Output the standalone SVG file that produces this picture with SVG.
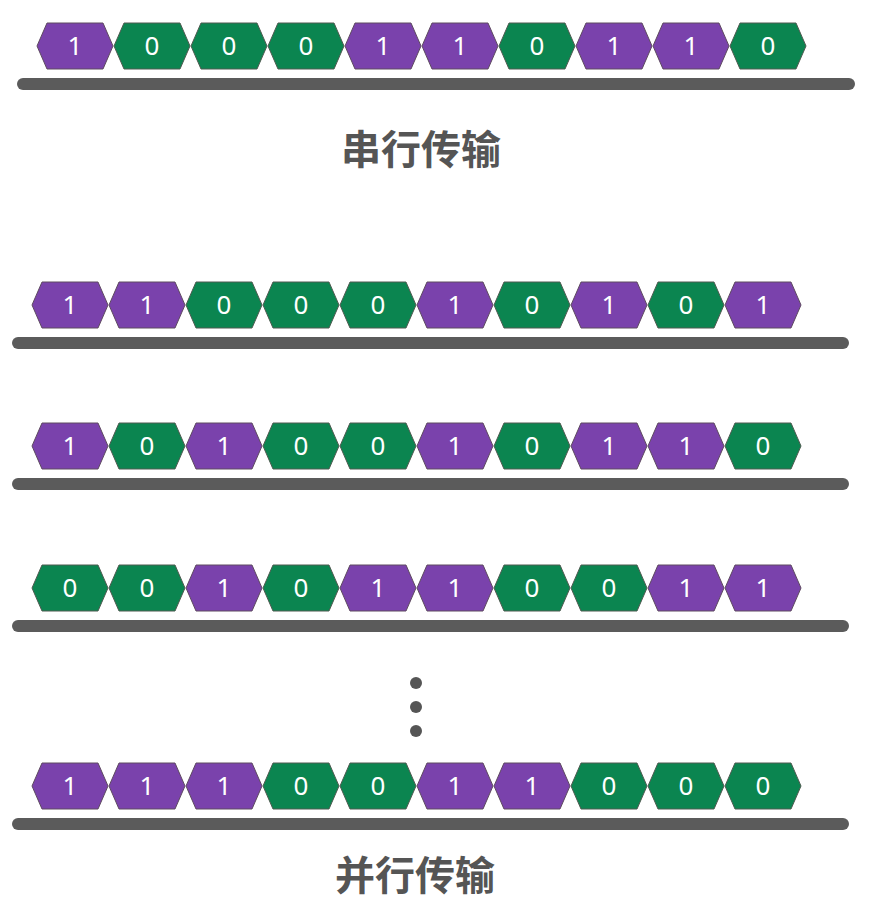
<svg xmlns="http://www.w3.org/2000/svg" xmlns:xlink="http://www.w3.org/1999/xlink" width="896" height="902" viewBox="0 0 896 902">
<style>
.p use{fill:#7A42AC;stroke:#5e4a60;stroke-width:1}
.g use{fill:#0B8550;stroke:#4e5a50;stroke-width:1}
.d{font-family:"Noto Sans","Open Sans","DejaVu Sans",sans-serif;font-size:26px;fill:#ffffff;text-anchor:middle}
.bar{stroke:#5b5b5b;stroke-width:12;stroke-linecap:round}
.title{font-family:"Noto Sans CJK SC","Noto Sans",sans-serif;font-weight:bold;font-size:40px;fill:#555555;text-anchor:middle}
.dot{fill:#555555}
</style>
<defs>
<polygon id="hex" points="-38,0 -28,-23 28,-23 38,0 28,23 -28,23"/>
</defs>
<rect width="896" height="902" fill="#ffffff"/>
<g id="connectors">
<line class="bar" x1="23" y1="84" x2="849" y2="84"/>
<line class="bar" x1="18" y1="343" x2="843" y2="343"/>
<line class="bar" x1="18" y1="484" x2="843" y2="484"/>
<line class="bar" x1="18" y1="626" x2="843" y2="626"/>
<line class="bar" x1="18" y1="824" x2="843" y2="824"/>
</g>
<g id="row1">
<g id="r1b1" class="p" transform="translate(75,46)"><use xlink:href="#hex"/><text class="d" y="9">1</text></g>
<g id="r1b2" class="g" transform="translate(152,46)"><use xlink:href="#hex"/><text class="d" y="9">0</text></g>
<g id="r1b3" class="g" transform="translate(229,46)"><use xlink:href="#hex"/><text class="d" y="9">0</text></g>
<g id="r1b4" class="g" transform="translate(306,46)"><use xlink:href="#hex"/><text class="d" y="9">0</text></g>
<g id="r1b5" class="p" transform="translate(383,46)"><use xlink:href="#hex"/><text class="d" y="9">1</text></g>
<g id="r1b6" class="p" transform="translate(460,46)"><use xlink:href="#hex"/><text class="d" y="9">1</text></g>
<g id="r1b7" class="g" transform="translate(537,46)"><use xlink:href="#hex"/><text class="d" y="9">0</text></g>
<g id="r1b8" class="p" transform="translate(614,46)"><use xlink:href="#hex"/><text class="d" y="9">1</text></g>
<g id="r1b9" class="p" transform="translate(691,46)"><use xlink:href="#hex"/><text class="d" y="9">1</text></g>
<g id="r1b10" class="g" transform="translate(768,46)"><use xlink:href="#hex"/><text class="d" y="9">0</text></g>
</g>
<g id="row2">
<g id="r2b1" class="p" transform="translate(70,305)"><use xlink:href="#hex"/><text class="d" y="9">1</text></g>
<g id="r2b2" class="p" transform="translate(147,305)"><use xlink:href="#hex"/><text class="d" y="9">1</text></g>
<g id="r2b3" class="g" transform="translate(224,305)"><use xlink:href="#hex"/><text class="d" y="9">0</text></g>
<g id="r2b4" class="g" transform="translate(301,305)"><use xlink:href="#hex"/><text class="d" y="9">0</text></g>
<g id="r2b5" class="g" transform="translate(378,305)"><use xlink:href="#hex"/><text class="d" y="9">0</text></g>
<g id="r2b6" class="p" transform="translate(455,305)"><use xlink:href="#hex"/><text class="d" y="9">1</text></g>
<g id="r2b7" class="g" transform="translate(532,305)"><use xlink:href="#hex"/><text class="d" y="9">0</text></g>
<g id="r2b8" class="p" transform="translate(609,305)"><use xlink:href="#hex"/><text class="d" y="9">1</text></g>
<g id="r2b9" class="g" transform="translate(686,305)"><use xlink:href="#hex"/><text class="d" y="9">0</text></g>
<g id="r2b10" class="p" transform="translate(763,305)"><use xlink:href="#hex"/><text class="d" y="9">1</text></g>
</g>
<g id="row3">
<g id="r3b1" class="p" transform="translate(70,446)"><use xlink:href="#hex"/><text class="d" y="9">1</text></g>
<g id="r3b2" class="g" transform="translate(147,446)"><use xlink:href="#hex"/><text class="d" y="9">0</text></g>
<g id="r3b3" class="p" transform="translate(224,446)"><use xlink:href="#hex"/><text class="d" y="9">1</text></g>
<g id="r3b4" class="g" transform="translate(301,446)"><use xlink:href="#hex"/><text class="d" y="9">0</text></g>
<g id="r3b5" class="g" transform="translate(378,446)"><use xlink:href="#hex"/><text class="d" y="9">0</text></g>
<g id="r3b6" class="p" transform="translate(455,446)"><use xlink:href="#hex"/><text class="d" y="9">1</text></g>
<g id="r3b7" class="g" transform="translate(532,446)"><use xlink:href="#hex"/><text class="d" y="9">0</text></g>
<g id="r3b8" class="p" transform="translate(609,446)"><use xlink:href="#hex"/><text class="d" y="9">1</text></g>
<g id="r3b9" class="p" transform="translate(686,446)"><use xlink:href="#hex"/><text class="d" y="9">1</text></g>
<g id="r3b10" class="g" transform="translate(763,446)"><use xlink:href="#hex"/><text class="d" y="9">0</text></g>
</g>
<g id="row4">
<g id="r4b1" class="g" transform="translate(70,588)"><use xlink:href="#hex"/><text class="d" y="9">0</text></g>
<g id="r4b2" class="g" transform="translate(147,588)"><use xlink:href="#hex"/><text class="d" y="9">0</text></g>
<g id="r4b3" class="p" transform="translate(224,588)"><use xlink:href="#hex"/><text class="d" y="9">1</text></g>
<g id="r4b4" class="g" transform="translate(301,588)"><use xlink:href="#hex"/><text class="d" y="9">0</text></g>
<g id="r4b5" class="p" transform="translate(378,588)"><use xlink:href="#hex"/><text class="d" y="9">1</text></g>
<g id="r4b6" class="p" transform="translate(455,588)"><use xlink:href="#hex"/><text class="d" y="9">1</text></g>
<g id="r4b7" class="g" transform="translate(532,588)"><use xlink:href="#hex"/><text class="d" y="9">0</text></g>
<g id="r4b8" class="g" transform="translate(609,588)"><use xlink:href="#hex"/><text class="d" y="9">0</text></g>
<g id="r4b9" class="p" transform="translate(686,588)"><use xlink:href="#hex"/><text class="d" y="9">1</text></g>
<g id="r4b10" class="p" transform="translate(763,588)"><use xlink:href="#hex"/><text class="d" y="9">1</text></g>
</g>
<g id="row5">
<g id="r5b1" class="p" transform="translate(70,786)"><use xlink:href="#hex"/><text class="d" y="9">1</text></g>
<g id="r5b2" class="p" transform="translate(147,786)"><use xlink:href="#hex"/><text class="d" y="9">1</text></g>
<g id="r5b3" class="p" transform="translate(224,786)"><use xlink:href="#hex"/><text class="d" y="9">1</text></g>
<g id="r5b4" class="g" transform="translate(301,786)"><use xlink:href="#hex"/><text class="d" y="9">0</text></g>
<g id="r5b5" class="g" transform="translate(378,786)"><use xlink:href="#hex"/><text class="d" y="9">0</text></g>
<g id="r5b6" class="p" transform="translate(455,786)"><use xlink:href="#hex"/><text class="d" y="9">1</text></g>
<g id="r5b7" class="p" transform="translate(532,786)"><use xlink:href="#hex"/><text class="d" y="9">1</text></g>
<g id="r5b8" class="g" transform="translate(609,786)"><use xlink:href="#hex"/><text class="d" y="9">0</text></g>
<g id="r5b9" class="g" transform="translate(686,786)"><use xlink:href="#hex"/><text class="d" y="9">0</text></g>
<g id="r5b10" class="g" transform="translate(763,786)"><use xlink:href="#hex"/><text class="d" y="9">0</text></g>
</g>
<g id="ellipsis">
<circle class="dot" cx="416" cy="683" r="6"/>
<circle class="dot" cx="416" cy="707" r="6"/>
<circle class="dot" cx="416" cy="731" r="6"/>
</g>
<text id="serial-label" class="title" x="421" y="164">串行传输</text>
<text id="parallel-label" class="title" x="415" y="890">并行传输</text>
</svg>
